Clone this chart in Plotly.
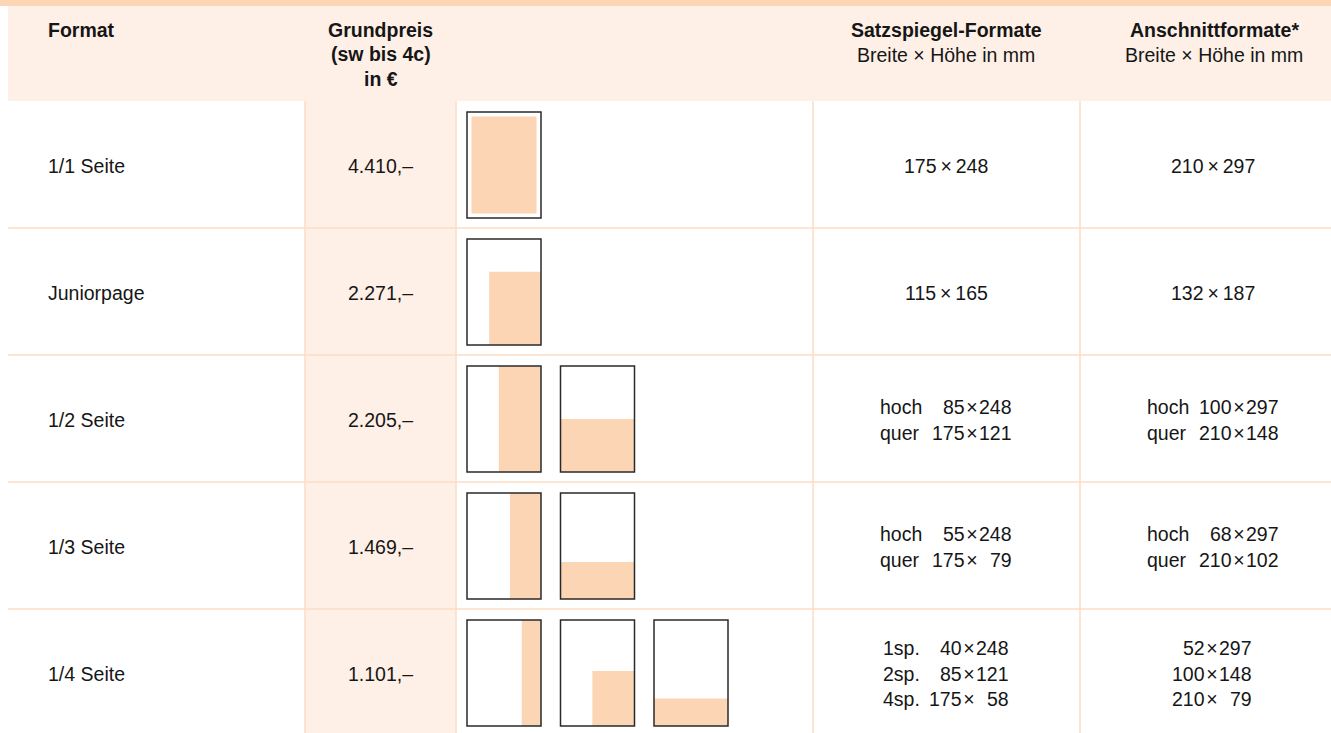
import plotly.graph_objects as go

# ---------------- data ----------------
header_format = "Format"
header_price = ["Grundpreis", "(sw bis 4c)", "in €"]
header_satz = ["Satzspiegel-Formate", "Breite × Höhe in mm"]
header_ans = ["Anschnittformate*", "Breite × Höhe in mm"]

formats = ["1/1 Seite", "Juniorpage", "1/2 Seite", "1/3 Seite", "1/4 Seite"]
prices = ["4.410,–", "2.271,–", "2.205,–", "1.469,–", "1.101,–"]

satz_labels = [[""], [""], ["hoch", "quer"], ["hoch", "quer"], ["1sp.", "2sp.", "4sp."]]
satz_w = [[175], [115], [85, 175], [55, 175], [40, 85, 175]]
satz_h = [[248], [165], [248, 121], [248, 79], [248, 121, 58]]

ans_labels = [[""], [""], ["hoch", "quer"], ["hoch", "quer"], ["", "", ""]]
ans_w = [[210], [132], [100, 210], [68, 210], [52, 100, 210]]
ans_h = [[297], [187], [297, 148], [297, 102], [297, 148, 79]]

# thumbnail fill fractions (width, height) of the page sketch
thumb_fill_w = [[0.88], [0.70], [0.57, 1.0], [0.42, 1.0], [0.26, 0.57, 1.0]]
thumb_fill_h = [[0.915], [0.69], [1.0, 0.50], [1.0, 0.35], [1.0, 0.52, 0.26]]

# ---------------- style / layout constants ----------------
W, H = 1331, 733
PEACH = "#FCD5B5"
LIGHT = "#FEF0E6"
GRID = "#FCDCC4"
TXT = "#161616"
FONT = "Liberation Sans, Arial, Helvetica, sans-serif"
FS = 19.5

HEADER_TOP, HEADER_BOT = 6, 101
ROW_H = 127
FMT_X = 46
PRICE_X0, PRICE_X1 = 305, 456
THUMB_X0, THUMB_STEP, THUMB_W, THUMB_H = 467, 93.5, 74, 106
SATZ_X0, ANS_X0 = 813, 1080
SATZ_C, ANS_C = 946, 1214
DIGIT_W = 0.556 * FS
TS = "\u2009"  # thin space around the multiplication sign
HS = "\u200a"  # hair space

fig = go.Figure()
fig.add_trace(go.Scatter(x=[0, W], y=[0, H], mode="markers",
                         marker=dict(opacity=0), hoverinfo="skip"))

shapes = []
ann = []


def rect(x0, y0, x1, y1, fill=None, line=None, lw=0):
    shapes.append(dict(type="rect", xref="x", yref="y", x0=x0, y0=y0, x1=x1, y1=y1,
                       fillcolor=fill if fill else "rgba(0,0,0,0)",
                       line=dict(color=line if line else "rgba(0,0,0,0)", width=lw),
                       layer="above"))


def hline(y, x0, x1):
    shapes.append(dict(type="line", xref="x", yref="y", x0=x0, x1=x1, y0=y, y1=y,
                       line=dict(color=GRID, width=1.5), layer="above"))


def vline(x, y0, y1):
    shapes.append(dict(type="line", xref="x", yref="y", x0=x, x1=x, y0=y0, y1=y1,
                       line=dict(color=GRID, width=1.5), layer="above"))


def text(x, y, s, xanchor="center", bold=False):
    ann.append(dict(x=x, y=y, xref="x", yref="y", text=f"<b>{s}</b>" if bold else s,
                    showarrow=False, xanchor=xanchor, yanchor="middle",
                    font=dict(family=FONT, size=FS, color=TXT)))


# header band + top bar
rect(0, 0, W, HEADER_TOP, fill=PEACH)
rect(8, HEADER_TOP, W, HEADER_BOT, fill=LIGHT)

n = len(formats)
bottom = H
# price column shading
rect(PRICE_X0, HEADER_BOT, PRICE_X1, bottom, fill=LIGHT)

# grid lines
for i in range(1, n):
    hline(HEADER_BOT + i * ROW_H, 8, W)
for x in (PRICE_X0, PRICE_X1, SATZ_X0, ANS_X0):
    vline(x, HEADER_BOT, bottom)

# header text
LINE0, LSP = 29.5, 24.5
text(FMT_X, LINE0, header_format, xanchor="left", bold=True)
for k, s in enumerate(header_price):
    text((PRICE_X0 + PRICE_X1) / 2, LINE0 + k * LSP, s, bold=True)
for k, s in enumerate(header_satz):
    text(SATZ_C, LINE0 + k * 25.5, s, bold=(k == 0))
for k, s in enumerate(header_ans):
    text(ANS_C, LINE0 + k * 25.5, s, bold=(k == 0))


def dims_block(c, yc, labels, ws, hs):
    m = len(ws)
    if m == 1 and not labels[0]:
        text(c, yc, f"{ws[0]}{TS}×{TS}{hs[0]}")
        return
    sp = 26 if m == 2 else 25.5
    has_label = any(labels)
    if has_label:
        left = c - 68 if m == 2 else c - 65
        right = c + 68 if m == 2 else c + 65
    else:
        left, right = None, c + 41
    for k in range(m):
        y = yc + (k - (m - 1) / 2) * sp
        if labels[k]:
            text(left, y, labels[k], xanchor="left")
        text(right - 3 * DIGIT_W - 1.5, y, f"{ws[k]}{HS}×", xanchor="right")
        text(right, y, f"{hs[k]}", xanchor="right")


for i in range(n):
    top = HEADER_BOT + i * ROW_H
    yc = top + ROW_H / 2 + 1
    text(FMT_X, yc, formats[i], xanchor="left")
    text((PRICE_X0 + PRICE_X1) / 2, yc, prices[i])
    dims_block(SATZ_C, yc, satz_labels[i], satz_w[i], satz_h[i])
    dims_block(ANS_C - 1, yc, ans_labels[i], ans_w[i], ans_h[i])

    # thumbnails
    by0 = top + 11
    by1 = by0 + THUMB_H
    for j, (fw, fh) in enumerate(zip(thumb_fill_w[i], thumb_fill_h[i])):
        bx0 = THUMB_X0 + j * THUMB_STEP
        bx1 = bx0 + THUMB_W
        if i == 0:
            # full page: type area centred with margins
            mx = (1 - fw) * THUMB_W / 2
            my = (1 - fh) * THUMB_H / 2
            rect(bx0 + mx, by0 + my, bx1 - mx, by1 - my, fill=PEACH)
        else:
            rect(bx1 - fw * THUMB_W, by1 - fh * THUMB_H, bx1, by1, fill=PEACH)
        rect(bx0, by0, bx1, by1, line="#2a2a2a", lw=1.5)

fig.update_layout(
    width=W, height=H, margin=dict(l=0, r=0, t=0, b=0, pad=0),
    paper_bgcolor="white", plot_bgcolor="white", showlegend=False,
    xaxis=dict(range=[0, W], visible=False, fixedrange=True),
    yaxis=dict(range=[H, 0], visible=False, fixedrange=True),
    shapes=shapes, annotations=ann,
)

fig.write_html("out.html", config={"displayModeBar": False},
               post_script="document.body.style.margin='0';"
                           "document.body.style.overflow='hidden';")
